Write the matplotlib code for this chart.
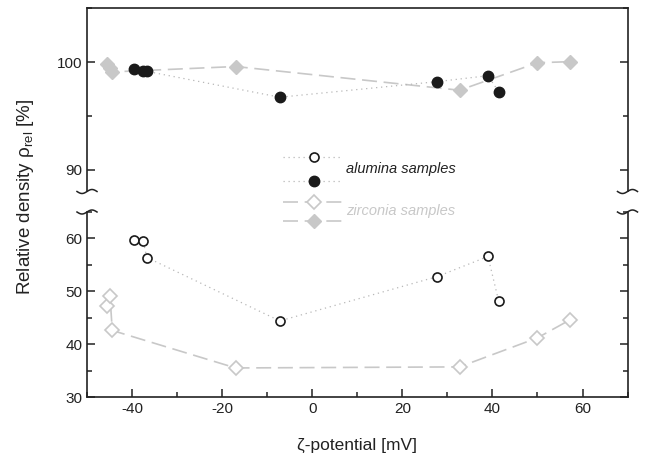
import numpy as np
import matplotlib
matplotlib.use('Agg')
import matplotlib.pyplot as plt
from matplotlib.lines import Line2D
from matplotlib.ticker import MultipleLocator

plt.rcParams['font.family'] = ['Liberation Sans', 'DejaVu Sans']
plt.rcParams['mathtext.fontset'] = 'custom'
plt.rcParams['mathtext.rm'] = 'Liberation Sans'
plt.rcParams['mathtext.it'] = 'Liberation Sans:italic'
plt.rcParams['axes.unicode_minus'] = False

# alumina (circles): open = lower density, filled = upper density
alu_zeta = [-39.5, -37.6, -36.7, -7.2, 27.8, 39.0, 41.4]
alu_open = [59.7, 59.6, 56.4, 44.4, 52.8, 56.6, 48.1]
alu_fill = [99.4, 99.2, 99.15, 96.75, 98.2, 98.75, 97.25]

# zirconia (diamonds)
zir_zeta = [-45.6, -44.9, -44.4, -17.0, 32.7, 50.0, 57.2]
zir_open = [47.3, 49.2, 42.6, 35.5, 35.7, 41.2, 44.6]
zir_fill = [99.8, 99.5, 99.1, 99.6, 97.4, 99.95, 100.05]

black = '#1a1a1a'
grey = '#c8c8c8'
dotgrey = '#b8b8b8'
spine_c = '#222222'

fig = plt.figure(figsize=(6.47, 4.63), dpi=100)
L, R = 0.1345, 0.970
ax_lo = fig.add_axes([L, 0.1425, R - L, 0.3995])
ax_hi = fig.add_axes([L, 0.5864, R - L, 0.3956])

dots = (0, (1, 3))
dash = (0, (9, 4))

ax_lo.plot(alu_zeta, alu_open, linestyle=dots, color=dotgrey, lw=0.9,
           marker='o', ms=6.5, mfc='white', mec=black, mew=1.2, zorder=3)
ax_lo.plot(zir_zeta, zir_open, linestyle=dash, color=grey, lw=1.2,
           marker='D', ms=7, mfc='white', mec=grey, mew=1.2, zorder=2)
ax_hi.plot(alu_zeta, alu_fill, linestyle=dots, color=dotgrey, lw=0.9,
           marker='o', ms=7.5, mfc=black, mec=black, zorder=3)
ax_hi.plot(zir_zeta, zir_fill, linestyle=dash, color=grey, lw=1.2,
           marker='D', ms=7.5, mfc=grey, mec=grey, zorder=2)

ax_lo.set_ylim(30, 65)
ax_hi.set_ylim(88, 105)
for ax in (ax_lo, ax_hi):
    ax.set_xlim(-50, 70)
    ax.xaxis.set_major_locator(MultipleLocator(20))
    ax.xaxis.set_minor_locator(MultipleLocator(10))
    ax.yaxis.set_major_locator(MultipleLocator(10))
    ax.yaxis.set_minor_locator(MultipleLocator(5))
    ax.tick_params(which='both', direction='in', right=True, top=False,
                   labelsize=11, colors=spine_c, width=1.1)
    ax.tick_params(which='major', length=6)
    ax.tick_params(which='minor', length=3.5)
    for s in ax.spines.values():
        s.set_linewidth(1.2)
        s.set_color(spine_c)

ax_lo.spines['top'].set_visible(False)
ax_hi.spines['bottom'].set_visible(False)
ax_hi.tick_params(which='both', bottom=False, labelbottom=False)
ax_lo.set_yticks([30, 40, 50, 60])
ax_hi.set_yticks([90, 100])

ax_lo.set_xlabel('ζ-potential [mV]', fontsize=12.5, labelpad=16, color=spine_c)
fig.text(0.04, 0.575, 'Relative density ρ$_\\mathrm{rel}$ [%]', rotation=90,
         fontsize=13.5, ha='center', va='center', color=spine_c)

# break marks on both sides
W, H = 647.0, 463.0
t = np.linspace(-1, 1, 40)
for xs in (87.0, 627.5):
    for ys in (191.5, 212.0):
        xx = (xs + 10 * t) / W
        yy = 1 - (ys - 2.0 * np.sin(np.pi * t)) / H
        fig.add_artist(Line2D(xx, yy, color=spine_c, lw=1.1,
                              transform=fig.transFigure))

# legend drawn by hand, it straddles the axis break
rows = [
    (157.3, dict(linestyle=dots, color=dotgrey, lw=0.9, marker='o', ms=6.5,
                 mfc='white', mec=black, mew=1.2)),
    (180.7, dict(linestyle=dots, color=dotgrey, lw=0.9, marker='o', ms=7.5,
                 mfc=black, mec=black)),
    (201.7, dict(linestyle=dash, color=grey, lw=1.2, marker='D', ms=7,
                 mfc='white', mec=grey, mew=1.2)),
    (221.0, dict(linestyle=dash, color=grey, lw=1.2, marker='D', ms=7.5,
                 mfc=grey, mec=grey)),
]
for y, kw in rows:
    ly = 1 - y / H
    fig.add_artist(Line2D([283 / W, 314 / W, 343 / W], [ly, ly, ly],
                          markevery=[1], transform=fig.transFigure, **kw))
fig.text(346 / W, 1 - 169 / H, 'alumina samples', style='italic',
         fontsize=10.5, color=spine_c, va='center')
fig.text(346 / W, 1 - 211 / H, 'zirconia samples', style='italic',
         fontsize=10.5, color=grey, va='center')

fig.savefig('out.png', dpi=100)
